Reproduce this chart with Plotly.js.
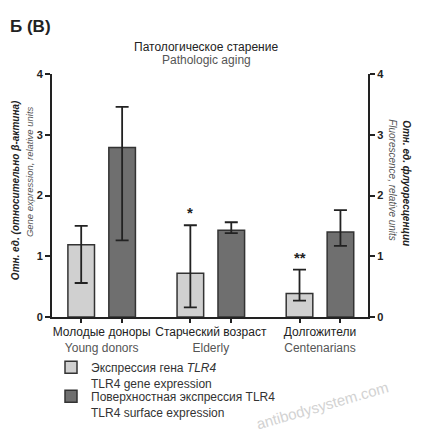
<!DOCTYPE html>
<html>
<head>
<meta charset="utf-8">
<script src="https://cdn.plot.ly/plotly-3.0.1.min.js"></script>
<style>
  body { margin: 0; background: #fff; }
  #chart { width: 427px; height: 436px; }
</style>
</head>
<body>
<div id="chart"></div>
<script>
// groups on the x axis (Russian / English)
var groupsRu = ['Молодые доноры', 'Старческий возраст', 'Долгожители'];
var groupsEn = ['Young donors', 'Elderly', 'Centenarians'];

// TLR4 gene expression (left axis), mean and error bar ends
var geneMean = [1.19, 0.72, 0.385];
var geneUpper = [1.50, 1.51, 0.78];
var geneLower = [0.56, 0.16, 0.27];

// TLR4 surface expression (right axis)
var surfMean = [2.79, 1.43, 1.40];
var surfUpper = [3.46, 1.56, 1.76];
var surfLower = [1.26, 1.38, 1.17];

// significance marks over the gene bars
var geneSig = ['', '*', '**'];

var font = 'Liberation Sans, Arial, sans-serif';
var cats = groupsRu.map(function (r, i) {
  return r + '<br><span style="color:#555">' + groupsEn[i] + '</span>';
});

function diff(a, b) { return a.map(function (v, i) { return v - b[i]; }); }

var errStyle = {type: 'data', symmetric: false, color: '#222', thickness: 1.8, width: 6.5};

var gene = {
  x: cats, y: geneMean, type: 'bar', yaxis: 'y', offsetgroup: 'a', legend: 'legend',
  name: 'Экспрессия гена <i>TLR4</i><br>TLR4 gene expression',
  marker: {color: '#d0d0d0', line: {color: '#333', width: 1.5}},
  error_y: Object.assign({array: diff(geneUpper, geneMean), arrayminus: diff(geneMean, geneLower)}, errStyle)
};
var surf = {
  x: cats, y: surfMean, type: 'bar', yaxis: 'y2', offsetgroup: 'b', legend: 'legend2',
  name: 'Поверхностная экспрессия TLR4<br>TLR4 surface expression',
  marker: {color: '#6f6f6f', line: {color: '#333', width: 1.5}},
  error_y: Object.assign({array: diff(surfUpper, surfMean), arrayminus: diff(surfMean, surfLower)}, errStyle)
};

var xr = [-0.455, 2.44];
var off = 0.1875;
var barTicks = [];
cats.forEach(function (c, i) { barTicks.push(i - off, i + off); });

var yAx = {
  range: [0, 4], showline: true, linewidth: 2, linecolor: '#222', showgrid: false, zeroline: false,
  ticks: 'outside', ticklen: 5, tickwidth: 2, tickcolor: '#222', dtick: 1,
  tickfont: {family: font, size: 11, color: '#222', weight: 'bold'}
};

// pixel position -> container fraction
function cx(px) { return px / 427; }
function cy(py) { return 1 - py / 436; }

var ann = [];
function txt(px, py, text, opts) {
  ann.push(Object.assign({xref: 'paper', yref: 'paper', x: (px - 52) / 316, y: (316.7 - py) / 242.7,
    xanchor: 'center', yanchor: 'middle', text: text,
    showarrow: false, font: {family: font, size: 12, color: '#222'}}, opts || {}));
}
txt(8, 27, '<b>Б (В)</b>', {xanchor: 'left', font: {family: font, size: 17, color: '#222'}});
txt(206, 47, 'Патологическое старение');
txt(206, 60, 'Pathologic aging', {font: {family: font, size: 12, color: '#555'}});
txt(15, 190, '<b><i>Отн. ед. (относительно β-актина)</i></b>', {textangle: -90, font: {family: font, size: 10, color: '#222'}});
txt(29, 172, '<i>Gene expression, relative units</i>', {textangle: -90, font: {family: font, size: 9.5, color: '#555'}});
txt(407, 183, '<b><i>Отн. ед. флуоресценции</i></b>', {textangle: 90, font: {family: font, size: 10, color: '#222'}});
txt(393, 180, '<i>Fluorescence, relative units</i>', {textangle: 90, font: {family: font, size: 10, color: '#555'}});
txt(322, 405, 'antibodysystem.com', {textangle: -16, font: {family: font, size: 15, color: '#d2d2d2'}});

geneSig.forEach(function (s, i) {
  if (!s) return;
  ann.push({xref: 'x2', yref: 'y', x: i - off, y: geneUpper[i] + 0.03, text: s, showarrow: false,
    xanchor: 'center', yanchor: 'bottom', font: {family: font, size: 15, color: '#222', weight: 'bold'}});
});

function legendAt(py) {
  return {xref: 'container', yref: 'container', x: cx(51), y: cy(py), xanchor: 'left', yanchor: 'top',
    valign: 'top', font: {family: font, size: 12, color: '#333'}, bgcolor: 'rgba(0,0,0,0)'};
}

var layout = {
  width: 427, height: 436,
  margin: {l: 52, r: 59, t: 74, b: 119.3, autoexpand: false},
  paper_bgcolor: '#fff', plot_bgcolor: '#fff',
  barmode: 'group', bargap: 0.25, bargroupgap: 0.35,
  showlegend: true,
  legend: legendAt(353),
  legend2: legendAt(382),
  font: {family: font, color: '#222'},
  xaxis: {type: 'category', range: xr, showline: true, linewidth: 2, linecolor: '#222',
    ticks: '', showgrid: false, zeroline: false, ticklabelstandoff: 3,
    tickfont: {family: font, size: 12, color: '#222'}},
  xaxis2: {overlaying: 'x', anchor: 'y', side: 'bottom', range: xr, tickmode: 'array', tickvals: barTicks,
    ticks: 'outside', ticklen: 5, tickwidth: 2, tickcolor: '#222', showticklabels: false,
    showline: false, showgrid: false, zeroline: false},
  yaxis: yAx,
  yaxis2: Object.assign({}, yAx, {overlaying: 'y', side: 'right', anchor: 'x'}),
  annotations: ann
};

// empty trace to bring up the tick-mark axis
var tickTrace = {x: [0], y: [0], xaxis: 'x2', yaxis: 'y', type: 'scatter', mode: 'none',
  showlegend: false, hoverinfo: 'skip'};

Plotly.newPlot('chart', [gene, surf, tickTrace], layout, {displayModeBar: false, staticPlot: true});
</script>
</body>
</html>
